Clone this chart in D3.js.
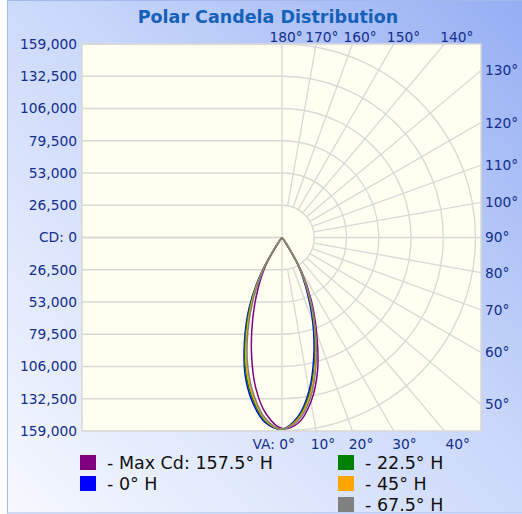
<!DOCTYPE html>
<html><head><meta charset="utf-8">
<script src="https://cdn.jsdelivr.net/npm/d3@7"></script>
<style>html,body{margin:0;padding:0;background:#fff;}svg{display:block;}</style>
</head><body>
<svg id="c" width="522" height="514"></svg>
<script>
// ---- data ----
const title = "Polar Candela Distribution";
const cdTicks = [0, 26500, 53000, 79500, 106000, 132500, 159000];
const topAngles = [180, 170, 160, 150, 140];
const rightAngles = [130, 120, 110, 100, 90, 80, 70, 60, 50];
const bottomAngles = [0, 10, 20, 30, 40];
const vAngles = [0, 5, 10, 15, 20, 25, 30, 35, 40];
const seriesNames = ["- Max Cd: 157.5° H", "- 0° H", "- 22.5° H", "- 45° H", "- 67.5° H"];
const seriesColors = ["#800080", "#0000ff", "#008000", "#ffa500", "#808080"];
// right side = H plane, left side = H+180 plane
const maxCdRight = [157000, 153000, 137000, 113000, 83000, 57000, 31000, 6000, 0];
const maxCdLeft  = [157000, 146000, 125000, 97000, 70000, 47000, 27000, 4000, 0];
const h0Right    = [157500, 148000, 128000, 101000, 74000, 48000, 27000, 4000, 0];
const h0Left     = [157500, 153000, 138000, 117000, 90000, 64000, 36000, 7000, 0];
const h225Right  = [157500, 149000, 130000, 104000, 77000, 51000, 28000, 5000, 0];
const h225Left   = [157500, 152000, 136000, 115000, 88000, 62000, 34000, 7000, 0];
const h45Right   = [157500, 150000, 132000, 106000, 79000, 53000, 29000, 5000, 0];
const h45Left    = [157500, 151000, 134000, 112000, 85000, 59000, 33000, 6000, 0];
const h675Right  = [157500, 151000, 134000, 108000, 80000, 54000, 30000, 5000, 0];
const h675Left   = [157500, 150000, 132000, 109000, 82000, 56000, 31000, 6000, 0];
const seriesRight = [maxCdRight, h0Right, h225Right, h45Right, h675Right];
const seriesLeft  = [maxCdLeft, h0Left, h225Left, h45Left, h675Left];

// ---- layout ----
const svg = d3.select("#c");
const cx = 282, cy = 237.5, R = 193.5;
const pL = 82, pR = 481, pT = 44, pB = 431;
const r = d3.scaleLinear().domain([0, 159000]).range([0, R]);
const rad = d => d * Math.PI / 180;
const labelColor = "#142f8e";
const gridColor = "#d8d8d6";
const font = "'DejaVu Sans', Verdana, sans-serif";

const defs = svg.append("defs");
const bg = defs.append("linearGradient").attr("id", "bg")
  .attr("x1", 0).attr("y1", 1).attr("x2", 1).attr("y2", 0);
bg.append("stop").attr("offset", 0).attr("stop-color", "#f6f8fe");
bg.append("stop").attr("offset", 0.55).attr("stop-color", "#c9d7fa");
bg.append("stop").attr("offset", 1).attr("stop-color", "#94aef3");
defs.append("clipPath").attr("id", "plotclip").append("rect")
  .attr("x", pL).attr("y", pT).attr("width", pR - pL).attr("height", pB - pT);

svg.append("rect").attr("x", 7.5).attr("y", 0.5).attr("width", 520).attr("height", 512.5)
  .attr("fill", "url(#bg)").attr("stroke", "#a3b9ee").attr("stroke-width", 1);

// title
svg.append("text").attr("x", 268).attr("y", 23).attr("text-anchor", "middle")
  .attr("font-family", font).attr("font-weight", "bold").attr("font-size", 17.5)
  .attr("fill", "#1560b8").text(title);

// plot area
svg.append("rect").attr("x", pL).attr("y", pT).attr("width", pR - pL).attr("height", pB - pT)
  .attr("fill", "#fefef1");

const grid = svg.append("g").attr("clip-path", "url(#plotclip)")
  .attr("stroke", gridColor).attr("stroke-width", 1.3).attr("fill", "none");
// left half horizontal lines
cdTicks.forEach(t => {
  [-1, 1].forEach(s => {
    grid.append("line").attr("x1", pL).attr("x2", cx)
      .attr("y1", cy + s * r(t)).attr("y2", cy + s * r(t));
  });
});
// right half arcs
const arc = d3.arc();
cdTicks.filter(t => t > 0).forEach(t => {
  grid.append("path").attr("transform", `translate(${cx},${cy})`)
    .attr("d", arc({innerRadius: r(t), outerRadius: r(t), startAngle: 0, endAngle: Math.PI}));
});
// radial lines every 10°
d3.range(10, 180, 10).forEach(a => {
  const dx = Math.sin(rad(a)), dy = Math.cos(rad(a));
  grid.append("line")
    .attr("x1", cx + r(26500) * dx).attr("y1", cy + r(26500) * dy)
    .attr("x2", cx + 400 * dx).attr("y2", cy + 400 * dy);
});
// center vertical line
grid.append("line").attr("x1", cx).attr("x2", cx).attr("y1", pT).attr("y2", pB);

svg.append("rect").attr("x", pL).attr("y", pT).attr("width", pR - pL).attr("height", pB - pT)
  .attr("fill", "none").attr("stroke", gridColor).attr("stroke-width", 1.5);

// candela curves
const line = d3.line().curve(d3.curveCatmullRom.alpha(0.5));
const curves = svg.append("g").attr("clip-path", "url(#plotclip)");
seriesNames.forEach((n, i) => {
  const pts = [];
  for (let k = vAngles.length - 1; k >= 0; k--) {
    const a = rad(vAngles[k]), v = r(seriesLeft[i][k]);
    pts.push([cx - v * Math.sin(a), cy + v * Math.cos(a)]);
  }
  for (let k = 1; k < vAngles.length; k++) {
    const a = rad(vAngles[k]), v = r(seriesRight[i][k]);
    pts.push([cx + v * Math.sin(a), cy + v * Math.cos(a)]);
  }
  curves.append("path").attr("d", line(pts)).attr("fill", "none")
    .attr("stroke", seriesColors[i]).attr("stroke-width", 1.5);
});

// left cd labels
const lab = svg.append("g").attr("font-family", font).attr("font-size", 13.8).attr("fill", labelColor);
cdTicks.forEach(t => {
  [-1, 1].forEach(s => {
    if (t === 0 && s === 1) return;
    lab.append("text").attr("x", 77).attr("y", cy + s * r(t)).attr("dy", "0.36em")
      .attr("text-anchor", "end")
      .text(t === 0 ? "CD: 0" : d3.format(",")(t));
  });
});
// top labels
topAngles.forEach(a => {
  const off = (R + 10) * Math.tan(rad(180 - a)) + 4;
  lab.append("text").attr("x", cx + off).attr("y", 41.5).attr("text-anchor", "middle").text(a + "°");
});
// bottom labels
bottomAngles.forEach(a => {
  const off = (R + 10) * Math.tan(rad(a)) + 5;
  lab.append("text").attr("x", a === 0 ? cx + 13 : cx + off).attr("y", 449)
    .attr("text-anchor", a === 0 ? "end" : "middle").text(a === 0 ? "VA: 0°" : a + "°");
});
// right labels
rightAngles.forEach(a => {
  const y = cy + (pR - cx) * Math.cos(rad(a)) / Math.sin(rad(a));
  lab.append("text").attr("x", 485).attr("y", y).attr("dy", "0.36em").text(a + "°");
});

// legend
const legendCols = [0, 0, 1, 1, 1];
const legendRows = [0, 1, 0, 1, 2];
const leg = svg.append("g").attr("font-family", font).attr("font-size", 17.5).attr("fill", "#111");
seriesNames.forEach((n, i) => {
  const x = legendCols[i] ? 338 : 80;
  const y = 455 + legendRows[i] * 21;
  leg.append("rect").attr("x", x).attr("y", y).attr("width", 16).attr("height", 15).attr("fill", seriesColors[i]);
  leg.append("text").attr("x", x + 27).attr("y", y + 14).text(n);
});
</script>
</body></html>
